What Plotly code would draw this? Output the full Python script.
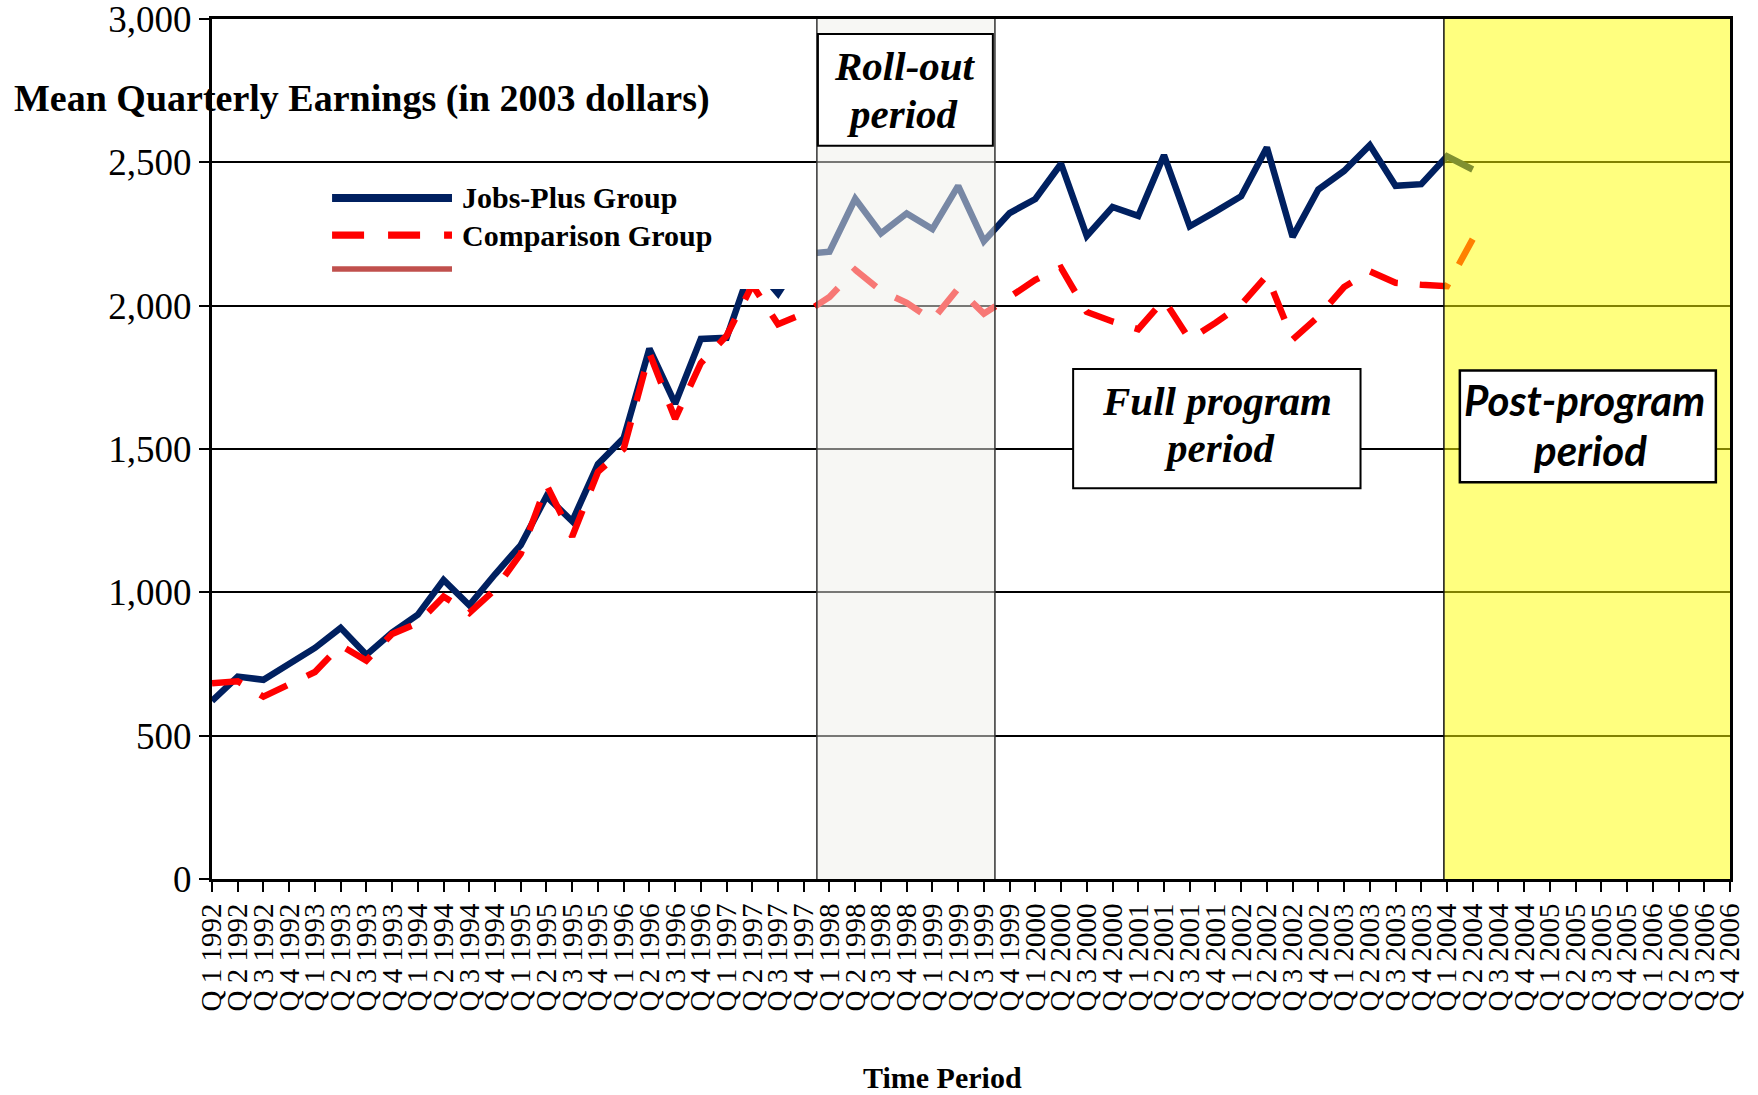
import plotly.graph_objects as go

# Quarter labels, Q1 1992 through Q4 2006
years = list(range(1992, 2007))
quarter_nums = [1, 2, 3, 4]
quarters = [f"Q {q} {y}" for y in years for q in quarter_nums]

# Mean quarterly earnings (2003 dollars), Q1 1992 - Q2 2004
jobs_plus = [
    621, 706, 695, 750, 806, 876, 782, 860, 922, 1043,
    955, 1063, 1165, 1335, 1248, 1447, 1538, 1850, 1658, 1884,
    1888, 2148, 2042, 2180, 2188, 2373, 2252, 2322, 2267, 2418,
    2225, 2323, 2372, 2495, 2243, 2344, 2313, 2525, 2277, 2328,
    2382, 2552, 2240, 2405, 2470, 2560, 2418, 2424, 2521, 2475,
]
comparison = [
    683, 690, 636, 680, 722, 815, 762, 855, 893, 985,
    928, 1010, 1135, 1375, 1195, 1420, 1500, 1835, 1605, 1800,
    1895, 2072, 1935, 1972, 2030, 2125, 2052, 2010, 1950, 2060,
    1972, 2030, 2090, 2132, 1978, 1945, 1918, 2020, 1882, 1940,
    2003, 2105, 1882, 1962, 2065, 2120, 2080, 2073, 2068, 2232,
]
pad = [None] * (len(quarters) - len(jobs_plus))
jobs_plus = jobs_plus + pad
comparison = comparison + pad

series_names = ["Jobs-Plus Group", "Comparison Group"]
y_ticks = [0, 500, 1000, 1500, 2000, 2500, 3000]

SERIF = "Liberation Serif"
SANS = "Lato"
NAVY = "#002060"
RED = "#ff0000"
BRICK = "#c0504d"

fig = go.Figure()
fig.add_trace(go.Scatter(
    x=quarters, y=jobs_plus, name=series_names[0], mode="lines",
    line=dict(color=NAVY, width=6.5), connectgaps=False,
))
fig.add_trace(go.Scatter(
    x=quarters, y=comparison, name=series_names[1], mode="lines",
    line=dict(color=RED, width=6.5, dash="30px,22px"), connectgaps=False,
))

# period shading and label boxes (x in quarter index units)
roll_x0, roll_x1 = 23.51, 30.43
post_x0, post_x1 = 47.88, 59.0

shapes = [
    # white backdrop behind the key
    dict(type="rect", xref="x", yref="y", x0=4.2, x1=roll_x0, y0=2058, y1=2488,
         fillcolor="white", line=dict(width=0), layer="above"),
    # roll-out period
    dict(type="rect", xref="x", yref="y", x0=roll_x0, x1=roll_x1, y0=0, y1=3000,
         fillcolor="rgb(240,240,234)", opacity=0.5, line=dict(width=0), layer="above"),
    dict(type="line", xref="x", yref="y", x0=roll_x0, x1=roll_x0, y0=0, y1=3000,
         line=dict(color="#333333", width=1.5), layer="above"),
    dict(type="line", xref="x", yref="y", x0=roll_x1, x1=roll_x1, y0=0, y1=3000,
         line=dict(color="#333333", width=1.5), layer="above"),
    # post-program period
    dict(type="rect", xref="x", yref="y", x0=post_x0, x1=post_x1, y0=0, y1=3000,
         fillcolor="#ffff00", opacity=0.5, line=dict(width=0), layer="above"),
    dict(type="line", xref="x", yref="y", x0=post_x0, x1=post_x0, y0=0, y1=3000,
         line=dict(color="#111111", width=1.5), layer="above"),
    # label boxes
    dict(type="rect", xref="x", yref="y", x0=23.55, x1=30.35, y0=2558, y1=2948,
         fillcolor="white", line=dict(color="black", width=2), layer="above"),
    dict(type="rect", xref="x", yref="y", x0=33.47, x1=44.64, y0=1363, y1=1779,
         fillcolor="white", line=dict(color="black", width=2), layer="above"),
    dict(type="rect", xref="x", yref="y", x0=48.50, x1=58.45, y0=1384, y1=1774,
         fillcolor="white", line=dict(color="black", width=2.5), layer="above"),
]

# key: sample lines and names (paper coordinates)
key_x0, key_x1, key_text_x = 0.0791, 0.1581, 0.1634
key_rows = [0.7919, 0.7488, 0.7093]
key_styles = [
    dict(color=NAVY, width=8),
    dict(color=RED, width=7.3, dash="32px,24px"),
    dict(color=BRICK, width=5.3),
]
for ky, style in zip(key_rows, key_styles):
    shapes.append(dict(type="line", xref="paper", yref="paper",
                       x0=key_x0, x1=key_x1, y0=ky, y1=ky, line=style, layer="above"))

label_font = dict(family=SERIF, size=41, color="black", weight="bold", style="italic")
post_font = dict(family=SANS, size=42, color="black", weight="bold", style="italic")
annotations = [
    dict(text="Roll-out", x=26.95, y=2837, font=label_font),
    dict(text="period", x=26.85, y=2670, font=label_font),
    dict(text="Full program", x=39.06, y=1668, font=label_font),
    dict(text="period", x=39.15, y=1502, font=label_font),
    dict(text="Post-program", x=53.35, y=1672, font=post_font),
    dict(text="period", x=53.55, y=1497, font=post_font),
]
for a in annotations:
    a.update(xref="x", yref="y", showarrow=False, xanchor="center", yanchor="middle")

key_font = dict(family=SERIF, size=30, color="black", weight="bold")
for name, ky in zip(series_names, key_rows):
    annotations.append(dict(text=name, xref="paper", yref="paper", x=key_text_x, y=ky,
                            xanchor="left", yanchor="middle", showarrow=False, font=key_font))

annotations += [
    dict(text="Mean Quarterly Earnings (in 2003 dollars)", xref="paper", yref="paper",
         x=-0.1315, y=0.9072, xanchor="left", yanchor="middle", showarrow=False,
         font=dict(family=SERIF, size=38, color="black", weight="bold")),
    dict(text="Time Period", xref="paper", yref="paper",
         x=0.4815, y=-0.231, xanchor="center", yanchor="middle", showarrow=False,
         font=dict(family=SERIF, size=30, color="black", weight="bold")),
]

fig.update_layout(
    width=1758, height=1095,
    margin=dict(l=212, r=28, t=19, b=216),
    paper_bgcolor="white", plot_bgcolor="white",
    font=dict(family=SERIF, color="black"),
    shapes=shapes, annotations=annotations,
    showlegend=False,
)
fig.update_xaxes(
    type="category", categoryorder="array", categoryarray=quarters,
    range=[0, len(quarters) - 1], automargin=False,
    tickmode="linear", tick0=0, dtick=1,
    showgrid=False, zeroline=False,
    showline=True, linecolor="black", linewidth=3, mirror=True,
    ticks="outside", ticklen=10, tickwidth=2, tickcolor="black",
    tickangle=-90, tickfont=dict(family=SERIF, size=29, color="black"),
)
fig.update_yaxes(
    range=[0, 3000], tickvals=y_ticks, tickformat=",", automargin=False,
    ticklabeloverflow="allow",
    showgrid=True, gridcolor="black", gridwidth=1.6, zeroline=False,
    showline=True, linecolor="black", linewidth=3, mirror=True,
    ticks="outside", ticklen=10, tickwidth=2, tickcolor="black",
    tickfont=dict(family=SERIF, size=37, color="black"),
)

fig.write_html("out.html")
